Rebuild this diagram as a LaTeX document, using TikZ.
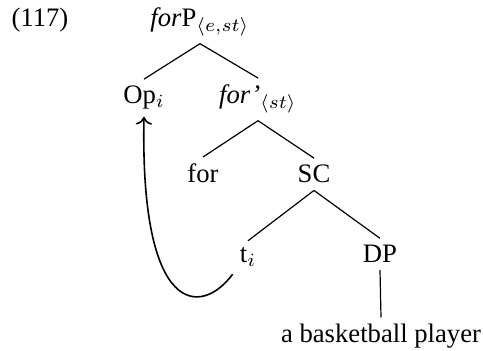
\documentclass[tikz,border=0pt]{standalone}
\usepackage{fontspec}
\setmainfont{Liberation Serif}
\usetikzlibrary{arrows.meta, positioning}
\tikzset{
  >=To,
  % Nodi dell'albero
  cat/.style={anchor=base, inner sep=2.5pt},
  % Rami e movimento
  branch/.style={line width=0.45pt},
  move/.style={->, line width=0.6pt}
}

\begin{document}
\begin{tikzpicture}[x=0.375pt, y=-0.375pt]
    \useasboundingbox (0,0) rectangle (483,351);
    \node[anchor=base west, inner sep=0pt] (ex) at (11,27) {(117)};
    \node[cat] (forP) at (200,27) {\textit{for}P$_{\langle e,st\rangle}$};
    \node[cat] (op) at (144,104) {Op$_i$};
    \node[cat] (forbar) at (258,104) {\textit{for'}$_{\langle st\rangle}$};
    \node[cat] (for) at (203,183) {for};
    \node[cat] (sc) at (314,183) {SC};
    \node[cat] (ti) at (248,263) {t$_i$};
    \node[cat] (dp) at (380,263) {DP};
    \node[cat] (player) at (381,343) {a basketball player};
    \draw[branch] (forP.south) -- (op.north);
    \draw[branch] (forP.south) -- (forbar.north);
    \draw[branch] (forbar.south) -- (for.north);
    \draw[branch] (forbar.south) -- (sc.north);
    \draw[branch] (sc.south) -- (ti.north);
    \draw[branch] (sc.south) -- (dp.north);
    \draw[branch] (dp.south) -- (player.north);
    \draw[move] (ti.south west) .. controls +(-32,43) and +(-4,199) .. (op.south);
  \end{tikzpicture}
\end{document}
